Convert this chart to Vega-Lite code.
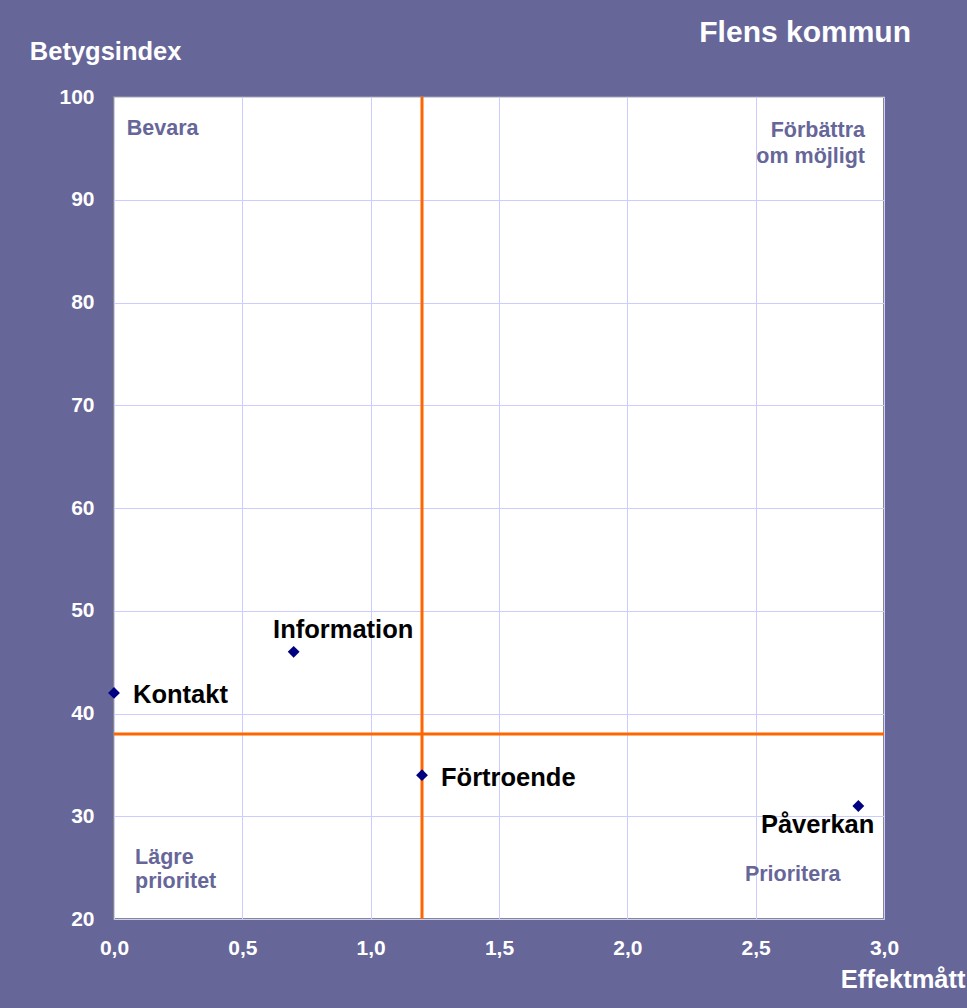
{
  "$schema": "https://vega.github.io/schema/vega-lite/v6.json",
  "width": 770,
  "height": 822,
  "autosize": {"type": "none"},
  "padding": {"left": 114, "top": 97, "right": 83, "bottom": 89},
  "background": "#666699",
  "title": {
    "text": "Flens kommun",
    "anchor": "end",
    "frame": "group",
    "orient": "top",
    "baseline": "alphabetic",
    "dx": 27,
    "dy": 34,
    "offset": 1,
    "font": "Liberation Sans",
    "fontSize": 30,
    "fontWeight": "bold",
    "color": "white"
  },
  "config": {
    "view": {"fill": "white", "stroke": "#888888", "strokeWidth": 2},
    "axis": {
      "labelFont": "Liberation Sans",
      "labelFontWeight": "bold",
      "labelColor": "white",
      "labelFontSize": 21,
      "labelFlush": false,
      "labelOverlap": false,
      "titleFont": "Liberation Sans",
      "titleFontWeight": "bold",
      "titleColor": "white",
      "titleFontSize": 25.5,
      "gridColor": "#ccccff",
      "gridWidth": 1,
      "gridOpacity": 1,
      "ticks": false,
      "domain": false
    },
    "text": {"font": "Liberation Sans"}
  },
  "datasets": {
    "points": [
      {"omrade": "Kontakt", "effekt": 0.0, "betyg": 42},
      {"omrade": "Information", "effekt": 0.7, "betyg": 46},
      {"omrade": "Förtroende", "effekt": 1.2, "betyg": 34},
      {"omrade": "Påverkan", "effekt": 2.9, "betyg": 31}
    ],
    "refs": [{"effekt": 1.2, "betyg": 38}],
    "quadrants": [
      {"label": "Bevara", "effekt": 0.05, "betyg": 96.3, "side": "left"},
      {"label": "Lägre\nprioritet", "effekt": 0.082, "betyg": 25.4, "side": "left"},
      {"label": "Prioritera", "effekt": 2.458, "betyg": 23.7, "side": "left"},
      {"label": "Förbättra\nom möjligt", "effekt": 2.926, "betyg": 96.1, "side": "right"}
    ]
  },
  "layer": [
    {
      "data": {"name": "refs"},
      "mark": {"type": "rule", "color": "#ff6600", "strokeWidth": 3},
      "encoding": {
        "x": {
          "field": "effekt",
          "type": "quantitative",
          "scale": {"domain": [0, 3], "nice": false, "zero": false},
          "axis": {
            "values": [0, 0.5, 1, 1.5, 2, 2.5, 3],
            "labelExpr": "replace(format(datum.value, '.1f'), '.', ',')",
            "labelPadding": 18,
            "title": "Effektmått",
            "titleX": 851,
            "titleY": 68.7,
            "titleAlign": "right",
            "titleBaseline": "alphabetic",
            "titleAnchor": "end"
          }
        }
      }
    },
    {
      "data": {"name": "refs"},
      "mark": {"type": "rule", "color": "#ff6600", "strokeWidth": 3},
      "encoding": {
        "y": {
          "field": "betyg",
          "type": "quantitative",
          "scale": {"domain": [20, 100], "nice": false, "zero": false},
          "axis": {
            "values": [20, 30, 40, 50, 60, 70, 80, 90, 100],
            "labelPadding": 20,
            "title": "Betygsindex",
            "titleAngle": 0,
            "titleX": -84.7,
            "titleY": -37.7,
            "titleAlign": "left",
            "titleBaseline": "alphabetic"
          }
        }
      }
    },
    {
      "data": {"name": "points"},
      "mark": {"type": "point", "shape": "diamond", "filled": true, "color": "#000080", "size": 140, "opacity": 1},
      "encoding": {
        "x": {"field": "effekt", "type": "quantitative"},
        "y": {"field": "betyg", "type": "quantitative"}
      }
    },
    {
      "data": {"name": "points"},
      "transform": [{"filter": "datum.omrade === 'Kontakt' || datum.omrade === 'Förtroende'"}],
      "mark": {"type": "text", "align": "left", "baseline": "alphabetic", "dx": 19, "dy": 10.5, "fontSize": 25.5, "fontWeight": "bold", "color": "black"},
      "encoding": {
        "x": {"field": "effekt", "type": "quantitative"},
        "y": {"field": "betyg", "type": "quantitative"},
        "text": {"field": "omrade"}
      }
    },
    {
      "data": {"name": "points"},
      "transform": [{"filter": "datum.omrade === 'Information'"}],
      "mark": {"type": "text", "align": "left", "baseline": "alphabetic", "dx": -20.6, "dy": -14, "fontSize": 25.5, "fontWeight": "bold", "color": "black"},
      "encoding": {
        "x": {"field": "effekt", "type": "quantitative"},
        "y": {"field": "betyg", "type": "quantitative"},
        "text": {"field": "omrade"}
      }
    },
    {
      "data": {"name": "points"},
      "transform": [{"filter": "datum.omrade === 'Påverkan'"}],
      "mark": {"type": "text", "align": "right", "baseline": "alphabetic", "dx": 16, "dy": 26.7, "fontSize": 25.5, "fontWeight": "bold", "color": "black"},
      "encoding": {
        "x": {"field": "effekt", "type": "quantitative"},
        "y": {"field": "betyg", "type": "quantitative"},
        "text": {"field": "omrade"}
      }
    },
    {
      "data": {"name": "quadrants"},
      "transform": [{"filter": "datum.side === 'left'"}],
      "mark": {"type": "text", "align": "left", "baseline": "alphabetic", "lineBreak": "\n", "lineHeight": 24, "fontSize": 21.5, "fontWeight": "bold", "color": "#666699"},
      "encoding": {
        "x": {"field": "effekt", "type": "quantitative"},
        "y": {"field": "betyg", "type": "quantitative"},
        "text": {"field": "label"}
      }
    },
    {
      "data": {"name": "quadrants"},
      "transform": [{"filter": "datum.side === 'right'"}],
      "mark": {"type": "text", "align": "right", "baseline": "alphabetic", "lineBreak": "\n", "lineHeight": 26, "fontSize": 21.5, "fontWeight": "bold", "color": "#666699"},
      "encoding": {
        "x": {"field": "effekt", "type": "quantitative"},
        "y": {"field": "betyg", "type": "quantitative"},
        "text": {"field": "label"}
      }
    }
  ]
}
